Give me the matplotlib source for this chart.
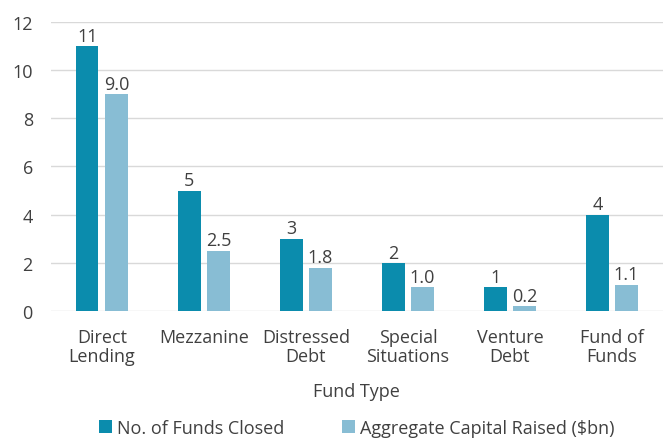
import numpy as np
import matplotlib.pyplot as plt

categories = ['Direct\nLending', 'Mezzanine', 'Distressed\nDebt', 'Special\nSituations', 'Venture\nDebt', 'Fund of\nFunds']
funds_closed = [11, 5, 3, 2, 1, 4]
capital_raised = [9.0, 2.5, 1.8, 1.0, 0.2, 1.1]
series_names = ['No. of Funds Closed', 'Aggregate Capital Raised ($bn)']

plt.rcParams['font.family'] = ['Open Sans', 'DejaVu Sans']
txt = '#404040'
dark = '#0B8CAD'
light = '#88BDD4'
fs = 13

fig = plt.figure(figsize=(6.69, 4.39), dpi=100)
ax = fig.add_axes([0.076, 0.289, 0.915, 0.659])

x = np.arange(len(categories))
w = 0.22
off = 0.143
b1 = ax.bar(x - off, funds_closed, w, color=dark, label=series_names[0], zorder=3)
b2 = ax.bar(x + off, capital_raised, w, color=light, label=series_names[1], zorder=3)
ax.bar_label(b1, labels=[str(v) for v in funds_closed], padding=1, fontsize=fs, color=txt)
ax.bar_label(b2, labels=['%.1f' % v for v in capital_raised], padding=1, fontsize=fs, color=txt)

ax.set_xlim(-0.5, len(categories) - 0.5)
ax.set_ylim(0, 12)
ax.set_yticks(range(0, 13, 2))
ax.grid(axis='y', color='#D9D9D9', linewidth=1, zorder=0)
for s in ax.spines.values():
    s.set_visible(False)
ax.tick_params(length=0, labelsize=fs, colors=txt)
ax.tick_params(axis='y', pad=13)
ax.tick_params(axis='x', pad=12)
ax.set_xticks(x)
ax.set_xticklabels(categories, linespacing=1.1)
ax.set_xlabel('Fund Type', fontsize=fs, color=txt, labelpad=12)

ax.legend(loc='lower center', bbox_to_anchor=(0.5, -0.46), ncol=2, frameon=False,
          fontsize=fs, handlelength=0.7, handleheight=0.7, handletextpad=0.3,
          columnspacing=3.2, labelcolor=txt, borderaxespad=0)

fig.savefig('out.png', dpi=100)
